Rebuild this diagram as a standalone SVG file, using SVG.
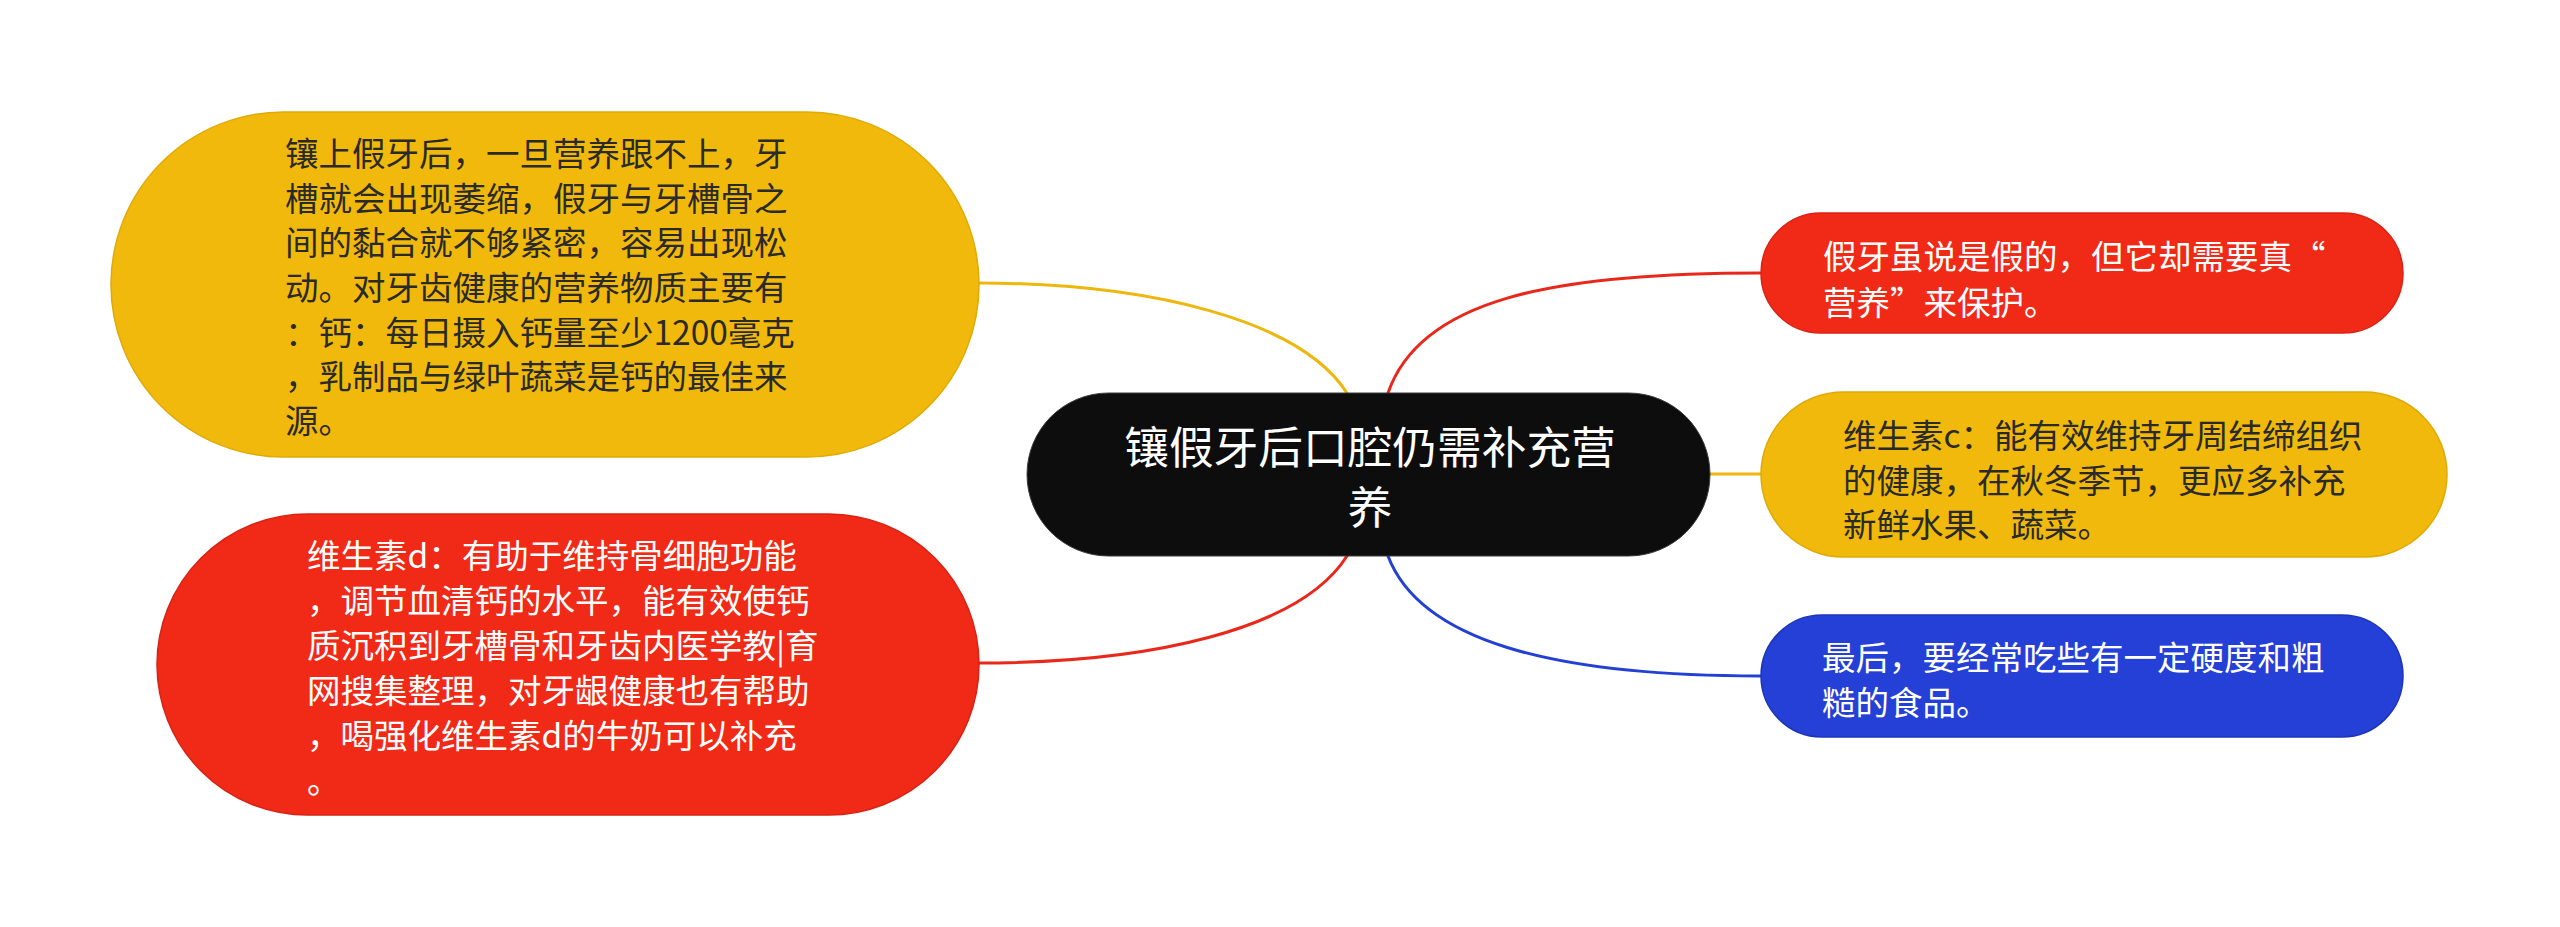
<svg xmlns="http://www.w3.org/2000/svg" width="2560" height="927" viewBox="0 0 2560 927">
<style>
.t{font-family:"Noto Sans CJK SC","Noto Sans",sans-serif;font-size:33.5px;dominant-baseline:central}
.dk{fill:#2a2a2a}
.wh{fill:#ffffff}
.root{font-family:"Noto Sans CJK SC","Noto Sans",sans-serif;font-size:44.7px;fill:#ffffff;dominant-baseline:central;text-anchor:middle}
.c{fill:none;stroke-width:3;stroke-linecap:round}
</style>
<rect width="2560" height="927" fill="#ffffff"/>
<g id="connectors">
<path class="c" stroke="#EDB70D" d="M978,283 C1150,283 1300,320 1347,393"/>
<path class="c" stroke="#E8281A" d="M978,663 C1150,663 1300,630 1347,556"/>
<path class="c" stroke="#E8281A" d="M1388,393 C1420,300 1550,273 1760,273"/>
<path class="c" stroke="#EDB70D" d="M1710,474 L1762,474"/>
<path class="c" stroke="#2340D4" d="M1388,556 C1420,640 1550,676 1760,676"/>
</g>
<g id="root">
<rect x="1027" y="393" width="683" height="163" rx="81.5" fill="#0D0D0D" stroke="#3a3a3a" stroke-width="1"/>
<text class="root" x="1370" y="444">镶假牙后口腔仍需补充营</text>
<text class="root" x="1370" y="504">养</text>
</g>
<g id="left-yellow">
<rect x="111" y="112" width="868" height="345" rx="172.5" fill="#F0B90B" stroke="#E0AA05" stroke-width="1.5"/>
<text class="t dk" x="285"><tspan x="285" y="151">镶上假牙后，一旦营养跟不上，牙</tspan><tspan x="285" y="195.5">槽就会出现萎缩，假牙与牙槽骨之</tspan><tspan x="285" y="240">间的黏合就不够紧密，容易出现松</tspan><tspan x="285" y="285">动。对牙齿健康的营养物质主要有</tspan><tspan x="285" y="329.5">：钙：每日摄入钙量至少1200毫克</tspan><tspan x="285" y="374">，乳制品与绿叶蔬菜是钙的最佳来</tspan><tspan x="285" y="418">源。</tspan></text>
</g>
<g id="left-red">
<rect x="157" y="514" width="822" height="301" rx="150.5" fill="#F02A17" stroke="#D92214" stroke-width="1.5"/>
<text class="t wh" x="307"><tspan x="307" y="553">维生素d：有助于维持骨细胞功能</tspan><tspan x="307" y="598">，调节血清钙的水平，能有效使钙</tspan><tspan x="307" y="643">质沉积到牙槽骨和牙齿内医学教|育</tspan><tspan x="307" y="688">网搜集整理，对牙龈健康也有帮助</tspan><tspan x="307" y="733">，喝强化维生素d的牛奶可以补充</tspan><tspan x="307" y="778">。</tspan></text>
</g>
<g id="right-red">
<rect x="1761" y="213" width="642" height="120" rx="60" fill="#F02A17" stroke="#D92214" stroke-width="1.5"/>
<text class="t wh" x="1823"><tspan x="1823" y="254">假牙虽说是假的，但它却需要真“</tspan><tspan x="1823" y="300">营养”来保护。</tspan></text>
</g>
<g id="right-yellow">
<rect x="1761" y="392" width="686" height="165" rx="82.5" fill="#F0B90B" stroke="#E0AA05" stroke-width="1.5"/>
<text class="t dk" x="1843"><tspan x="1843" y="433">维生素c：能有效维持牙周结缔组织</tspan><tspan x="1843" y="478">的健康，在秋冬季节，更应多补充</tspan><tspan x="1843" y="522">新鲜水果、蔬菜。</tspan></text>
</g>
<g id="right-blue">
<rect x="1761" y="615" width="642" height="122" rx="61" fill="#2440D6" stroke="#1C34B8" stroke-width="1.5"/>
<text class="t wh" x="1822"><tspan x="1822" y="655">最后，要经常吃些有一定硬度和粗</tspan><tspan x="1822" y="700">糙的食品。</tspan></text>
</g>
</svg>
